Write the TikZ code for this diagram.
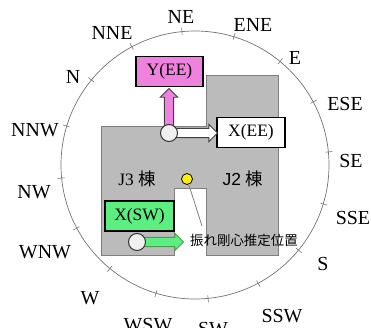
\documentclass[tikz,border=0pt]{standalone}
\usepackage{fontspec}
\setmainfont{Liberation Serif}
\newfontfamily\cjk{Noto Sans CJK JP}
\newfontfamily\helv{Liberation Sans}
\usetikzlibrary{shapes.arrows}
\definecolor{bldggray}{HTML}{BBBBBB}
\definecolor{edgegray}{HTML}{7F7F7F}
\definecolor{ypink}{HTML}{EE82DE}
\definecolor{swgreen}{HTML}{5CEE80}
\tikzset{
  dirlabel/.style={draw=none,inner sep=0pt,font=\fontsize{20}{20}\selectfont},
  casebox/.style={draw=black,line width=1.3bp,inner sep=0pt,minimum width=67bp,minimum height=30bp,font=\fontsize{17.5}{18}\selectfont},
  blockarrow/.style={single arrow,draw=#1,line width=0.9bp,anchor=tail,inner sep=4.2bp,single arrow head extend=4bp,single arrow tip angle=90},
  sensor/.style={circle,draw=black!80,line width=1bp,fill=black!6,inner sep=0pt,minimum size=17bp},
  wing/.style={draw=none,inner sep=0pt,font=\fontsize{17.5}{18}\selectfont},
}
\begin{document}
\begin{tikzpicture}[x=1bp,y=-1bp]
\clip (0,0) rectangle (371,328);

%compass ring
\node[circle,draw=black!55,line width=0.7bp,inner sep=0pt,minimum size=268bp] (ring) at (195,165) {};
\foreach \ang in {95.6,73.1,50.6,28.1,5.6,-16.9,-39.4,-61.9,-84.4,-106.9,-129.4,-151.9,-174.4,163.1,140.6,118.1}
  \draw[black!55,line width=0.6bp] ({195+131*cos(\ang)},{165-131*sin(\ang)}) -- ({195+138*cos(\ang)},{165-138*sin(\ang)});

%directions
\node[dirlabel] (lblA) at (181,17) {NE};
\node[dirlabel] (lblB) at (112,33) {NNE};
\node[dirlabel] (lblC) at (73,77) {N};
\node[dirlabel] (lblD) at (35,130) {NNW};
\node[dirlabel] (lblE) at (34,192) {NW};
\node[dirlabel] (lblF) at (45,252) {WNW};
\node[dirlabel] (lblG) at (90,298) {W};
\node[dirlabel] (lblH) at (148,325) {WSW};
\node[dirlabel] (lblI) at (213,329) {SW};
\node[dirlabel] (lblJ) at (282,316) {SSW};
\node[dirlabel] (lblK) at (323,264) {S};
\node[dirlabel] (lblL) at (353,218) {SSE};
\node[dirlabel] (lblM) at (351,161) {SE};
\node[dirlabel] (lblN) at (345,104) {ESE};
\node[dirlabel] (lblO) at (295,58) {E};
\node[dirlabel] (lblP) at (253,25) {ENE};

%building
\draw[fill=bldggray,draw=edgegray,line width=0.9bp] (101,126) -- (206.5,126) -- (206.5,75) -- (278,75) -- (278,255) -- (206.5,255) -- (206.5,188) -- (174,188) -- (174,255) -- (101,255) -- cycle;
\node[wing] (wingJ3) at (137,179) {J3 {\cjk 棟}};
\node[wing] (wingJ2) at (243,179) {\helv J2 {\cjk 棟}};

%sensor positions
\coordinate (eepos) at (169,133);
\coordinate (swpos) at (137,242);

%case boxes
\node[casebox,fill=ypink] (yee) at (169.5,71.5) {Y(EE)};
\node[casebox,fill=white,minimum width=68bp] (xee) at (251,132.5) {X(EE)};
\node[casebox,fill=swgreen,minimum width=69bp] (xsw) at (139.5,216) {X(SW)};

%arrows
\node[blockarrow=black!75,fill=ypink,rotate=90,minimum height=44bp] (yarrow) at (eepos) {};
\node[blockarrow=black!75,fill=white,minimum height=48bp] (xarrow) at (eepos) {};
\node[blockarrow=green!45!black!70,fill=swgreen,minimum height=46bp] (swarrow) at (swpos) {};

%sensors
\node[sensor] (eesens) at (eepos) {};
\node[sensor] (swsens) at (swpos) {};

%stiffness centre
\coordinate (leaderend) at (202,226);
\node[circle,draw=black,line width=0.8bp,fill=yellow,inner sep=0pt,minimum size=11bp] (stiff) at (187,179) {};
\draw[edgegray,line width=0.8bp] (stiff) -- (leaderend);
\node[draw=none,inner sep=0pt,font=\cjk\fontsize{13.5}{14}\selectfont] (stifflabel) at (244,240) {振れ剛心推定位置};
\end{tikzpicture}
\end{document}
